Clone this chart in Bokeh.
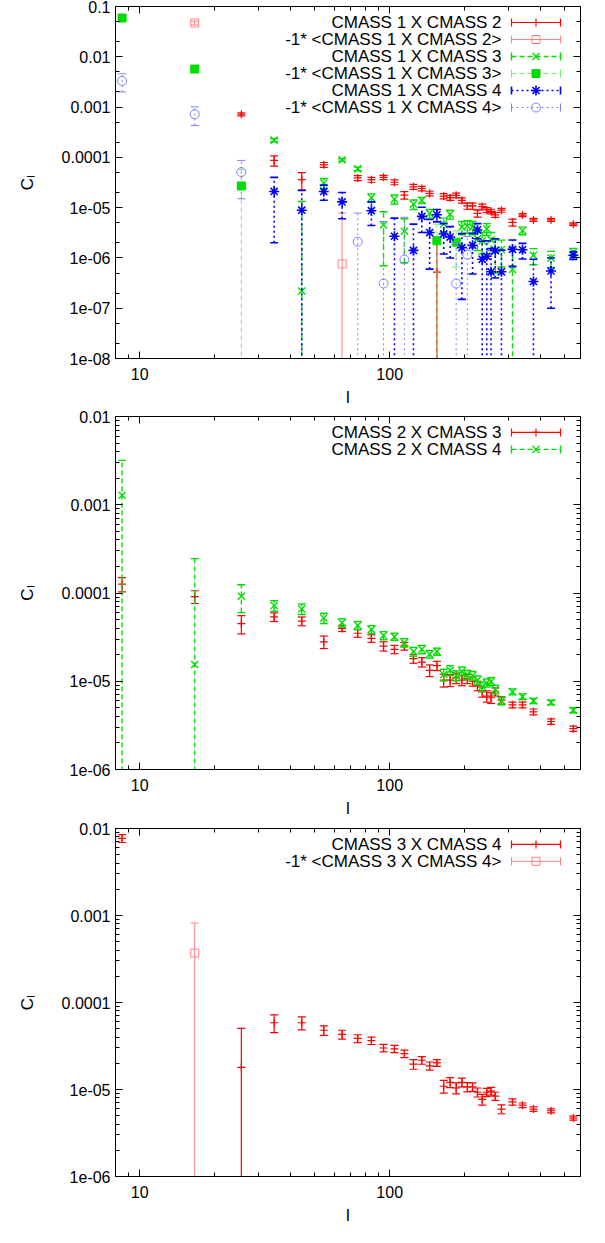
import numpy as np
from bokeh.plotting import figure
from bokeh.layouts import column
from bokeh.models import Range1d, FixedTicker, CustomJSTickFormatter, LogAxis
from bokeh.core.properties import value
from bokeh.embed import file_html
from bokeh.resources import INLINE

FONT = "Liberation Sans"
NAN = float("nan")

# multipole bins
ELL = [8.5, 16.6, 25.5, 34.5, 44.5, 54.5, 64.5, 74.5, 84.5, 94.5, 104.5, 114.5,
       124.5, 134.5, 144.5, 154.5, 164.5, 174.5, 184.5, 194.5, 204.5, 214.5,
       224.5, 234.5, 244.5, 254.5, 264.5, 280, 310, 340, 376, 442, 543]

# ---- panel 1 (signed values; negatives are drawn as -1*<...>) ----
C_1x2 = [NAN, -0.047, 7.2e-4, 8.7e-5, 3.6e-5, 7.1e-5, -7.6e-7, 3.9e-5, 3.6e-5, 4.0e-5,
         3.2e-5, 1.78e-5, 2.6e-5, 2.4e-5, 1.92e-5, 5.2e-7, 1.7e-5, 1.58e-5, 1.76e-5,
         1.4e-5, 1.08e-5, 1.08e-5, 7.7e-6, 1.05e-5, 9.0e-6, 8.4e-6, 7.2e-6, 8.9e-6,
         5.1e-6, 7.1e-6, 5.7e-6, 5.7e-6, 4.7e-6]
E_1x2 = [NAN, 0.004, 0.5e-4, 2.0e-5, 1.35e-5, 0.8e-5, 7.1e-6, 0.45e-5, 0.4e-5, 0.4e-5,
         0.35e-5, 0.3e-5, 0.3e-5, 0.25e-5, 0.2e-5, 1.7e-6, 0.2e-5, 0.18e-5, 0.18e-5,
         0.17e-5, 0.15e-5, 0.15e-5, 1.2e-6, 1.2e-6, 1.0e-6, 0.9e-6, 0.8e-6, 0.8e-6,
         0.8e-6, 0.5e-6, 0.4e-6, 0.4e-6, 0.3e-6]

C_1x3 = [-0.059, -5.7e-3, -2.7e-5, 2.2e-4, 2.2e-7, 3.1e-5, 8.9e-5, 5.9e-5, 1.58e-5, 4.5e-6,
         1.48e-5, 3.4e-6, 1.17e-5, 1.4e-5, 7.7e-6, -2.2e-6, 4.7e-6, 7.4e-6, -2.06e-6,
         4.1e-6, 4.3e-6, 4.1e-6, 2.4e-6, 2.2e-6, 3.8e-6, 2.3e-6, 1.4e-6, 1.46e-6,
         5.9e-7, 3.5e-6, 1.13e-6, 1.0e-6, 1.3e-6]
E_1x3 = [0.004, 0.4e-3, 3.0e-5, 0.15e-4, 1.3e-5, 0.7e-5, 0.5e-5, 0.5e-5, 0.3e-5, 3.8e-6,
         0.3e-5, 2.6e-6, 0.25e-5, 0.2e-5, 1.5e-6, 2.5e-6, 1.5e-6, 1.5e-6, 1.4e-6,
         1.2e-6, 1.2e-6, 1.2e-6, 1.0e-6, 1.0e-6, 1.0e-6, 0.9e-6, 0.9e-6, 0.8e-6,
         1.0e-6, 0.6e-6, 0.4e-6, 0.35e-6, 0.25e-6]

C_1x4 = [-3.3e-3, -7.2e-4, -5.1e-5, 2.1e-5, 8.9e-6, 2.1e-5, 1.3e-5, -2.1e-6, 8.7e-6, -3.1e-7,
         2.7e-6, -9.3e-7, 1.41e-6, 6.7e-6, 3.2e-6, 7.2e-6, 3.0e-6, 2.6e-6, -3.1e-7,
         1.6e-6, -1.16e-6, 1.78e-6, 3.6e-6, 9.4e-7, 1.08e-6, 5.3e-7, 1.4e-6, 5.3e-7,
         1.48e-6, 1.45e-6, 3.4e-7, 5.5e-7, 1.13e-6]
E_1x4 = [1.3e-3, 2.9e-4, 3.6e-5, 1.9e-5, 1.3e-5, 0.7e-5, 0.7e-5, 5.7e-6, 4.3e-6, 5.0e-6,
         3.5e-6, 5.5e-6, 3.3e-6, 3.5e-6, 2.6e-6, 2.0e-6, 1.8e-6, 1.6e-6, 1.7e-6,
         1.45e-6, 1.5e-6, 1.3e-6, 1.2e-6, 1.2e-6, 1.1e-6, 1.0e-6, 1.0e-6, 0.9e-6,
         0.8e-6, 0.5e-6, 0.6e-6, 0.45e-6, 0.2e-6]

# ---- panel 2 ----
C_2x3 = [1.26e-4, 9.1e-5, 4.5e-5, 5.35e-5, 4.8e-5, 2.8e-5, 3.96e-5, 3.5e-5, 3.06e-5, 2.5e-5,
         2.3e-5, 2.5e-5, 1.8e-5, 1.65e-5, 1.33e-5, 1.5e-5, 1.03e-5, 1.03e-5, 1.09e-5,
         1.03e-5, 1.07e-5, 1.0e-5, 8.9e-6, 7.6e-6, 6.8e-6, 6.5e-6, 7.6e-6, 6.1e-6,
         5.4e-6, 5.4e-6, 4.5e-6, 3.5e-6, 2.9e-6]
E_2x3 = [2.3e-5, 1.5e-5, 1.05e-5, 0.6e-5, 0.55e-5, 0.45e-5, 0.3e-5, 0.35e-5, 0.3e-5, 0.3e-5,
         0.25e-5, 0.25e-5, 0.2e-5, 0.2e-5, 0.2e-5, 0.18e-5, 0.17e-5, 0.16e-5, 0.15e-5,
         0.14e-5, 0.13e-5, 0.12e-5, 1.1e-6, 1.0e-6, 1.0e-6, 0.9e-6, 0.8e-6, 0.6e-6,
         0.4e-6, 0.4e-6, 0.35e-6, 0.25e-6, 0.2e-6]

C_2x4 = [1.28e-3, 1.55e-5, 9.2e-5, 7.2e-5, 6.6e-5, 5.2e-5, 4.6e-5, 4.3e-5, 3.86e-5, 3.3e-5,
         3.2e-5, 2.74e-5, 2.17e-5, 2.3e-5, 2.03e-5, 2.17e-5, 1.19e-5, 1.33e-5, 1.16e-5,
         1.3e-5, 1.19e-5, 1.16e-5, 1.03e-5, 8.7e-6, 9.6e-6, 1.0e-5, 8.1e-6, 6.0e-6,
         7.6e-6, 6.7e-6, 6.0e-6, 5.75e-6, 4.7e-6]
E_2x4 = [1.9e-3, 2.3e-4, 3.2e-5, 1.0e-5, 0.9e-5, 0.7e-5, 0.5e-5, 0.45e-5, 0.4e-5, 0.35e-5,
         0.3e-5, 0.3e-5, 0.25e-5, 0.25e-5, 0.2e-5, 0.2e-5, 0.18e-5, 0.17e-5, 0.15e-5,
         0.15e-5, 0.14e-5, 0.13e-5, 0.12e-5, 1.1e-6, 1.0e-6, 1.0e-6, 0.9e-6, 0.6e-6,
         0.6e-6, 0.5e-6, 0.4e-6, 0.35e-6, 0.3e-6]

# ---- panel 3 ----
C_3x4 = [7.7e-3, -3.7e-4, 1.8e-5, 5.85e-5, 5.85e-5, 4.8e-5, 4.3e-5, 3.86e-5, 3.64e-5, 3.0e-5,
         2.93e-5, 2.58e-5, 1.96e-5, 2.17e-5, 1.87e-5, 2.02e-5, 1.09e-5, 1.21e-5, 1.04e-5,
         1.21e-5, 1.07e-5, 1.07e-5, 9.3e-6, 7.7e-6, 9.3e-6, 9.6e-6, 8.4e-6, 5.96e-6,
         7.2e-6, 6.6e-6, 5.96e-6, 5.7e-6, 4.7e-6]
E_3x4 = [0.8e-3, 4.5e-4, 3.25e-5, 1.35e-5, 1.0e-5, 0.6e-5, 0.5e-5, 0.4e-5, 0.35e-5, 0.3e-5,
         0.28e-5, 0.26e-5, 0.25e-5, 0.22e-5, 0.2e-5, 0.18e-5, 0.18e-5, 0.16e-5, 0.15e-5,
         0.14e-5, 0.13e-5, 0.12e-5, 1.1e-6, 1.1e-6, 1.0e-6, 1.0e-6, 0.9e-6, 0.7e-6,
         0.6e-6, 0.4e-6, 0.35e-6, 0.3e-6, 0.25e-6]

X_MAJOR = [10, 100]
X_MINOR = [9] + [m * 10 for m in range(2, 10)] + [m * 100 for m in range(2, 6)]

X0, X1 = 8.0, 580.0
FW = 465

RED, LRED = "#ff0000", "#ff8080"
GREEN, LGREEN = "#00dd00", "#80e880"
BLUE, LBLUE = "#0000ff", "#8080ff"

YFMT = """
const e = Math.round(Math.log10(tick));
if (e >= -4) { return tick.toFixed(Math.max(0, -e)); }
const n = -e;
return "1e-" + (n < 10 ? "0" + n : "" + n);
"""

FRAME_H = {}


def style_ticks(ax):
    ax.major_tick_in = 7
    ax.major_tick_out = 0
    ax.minor_tick_in = 4
    ax.minor_tick_out = 0
    ax.axis_line_color = "black"
    ax.major_tick_line_color = "black"
    ax.minor_tick_line_color = "black"


def make_fig(height, top, bottom, ylo, yhi, ymult):
    p = figure(width=589, height=height, x_axis_type="log", y_axis_type="log",
               x_range=Range1d(X0, X1), y_range=Range1d(10.0 ** ylo, 10.0 ** yhi),
               output_backend="svg", toolbar_location=None,
               min_border_left=115, min_border_right=9,
               min_border_top=top, min_border_bottom=bottom)
    p.grid.visible = False
    p.outline_line_color = "black"
    p.outline_line_width = 1
    p.background_fill_color = "white"
    p.border_fill_color = "white"
    ymaj = [10.0 ** e for e in range(ylo, yhi + 1)]
    ymin = [m * 10.0 ** e for e in range(ylo, yhi) for m in ymult]
    p.xaxis.ticker = FixedTicker(ticks=X_MAJOR, minor_ticks=X_MINOR)
    p.yaxis.ticker = FixedTicker(ticks=ymaj, minor_ticks=ymin)
    p.xaxis.formatter = CustomJSTickFormatter(code="return String(Math.round(tick));")
    p.yaxis.formatter = CustomJSTickFormatter(code=YFMT)
    p.xaxis.axis_label = "l"
    p.yaxis.axis_label = "C\u2097"
    for ax in (p.xaxis[0], p.yaxis[0]):
        ax.major_label_text_font = FONT
        ax.major_label_text_font_size = "16px"
        ax.major_label_text_color = "black"
        ax.axis_label_text_font = FONT
        ax.axis_label_text_font_size = "17px"
        ax.axis_label_text_font_style = "normal"
        ax.axis_label_text_color = "black"
        style_ticks(ax)
    p.xaxis.major_label_standoff = 9
    p.xaxis.axis_label_standoff = 5
    p.yaxis.major_label_standoff = 5
    p.yaxis.axis_label_standoff = 22
    # mirrored ticks on top and right (no labels)
    top_ax = LogAxis(ticker=FixedTicker(ticks=X_MAJOR, minor_ticks=X_MINOR),
                     formatter=CustomJSTickFormatter(code="return '';"))
    right_ax = LogAxis(ticker=FixedTicker(ticks=ymaj, minor_ticks=ymin),
                       formatter=CustomJSTickFormatter(code="return '';"))
    for ax in (top_ax, right_ax):
        ax.major_label_text_font_size = "1px"
        ax.major_label_text_color = None
        ax.major_label_standoff = 0
        style_ticks(ax)
    p.add_layout(top_ax, "above")
    p.add_layout(right_ax, "right")
    FRAME_H[id(p)] = height - top - bottom
    return p


def series(p, cl, err, sign, color, dash, marker, size, fill, mcolor, lw=1.0):
    ell = np.asarray(ELL, float)
    y_all = np.asarray(cl, float) * sign
    e_all = np.asarray(err, float)
    m = np.isfinite(y_all) & (y_all > 0)
    x, y, e = ell[m], y_all[m], e_all[m]
    up = y + e
    lo = np.maximum(y - e, 1e-14)
    p.segment(x0=x, y0=lo, x1=x, y1=up, line_color=color, line_dash=dash, line_width=lw)
    p.scatter(x=np.concatenate([x, x]), y=np.concatenate([up, lo]), marker="dash",
              size=8, line_color=color, line_width=lw)
    p.scatter(x=x, y=y, marker=marker, size=size, line_color=mcolor, fill_color=fill,
              line_width=lw)


def px2x(px):
    return 10 ** (np.log10(X0) + px / FW * (np.log10(X1) - np.log10(X0)))


def legend_row(p, ylo, yhi, row, label, color, dash, marker, size, fill, mcolor, lw=1.0):
    fh = FRAME_H[id(p)]
    py = 16 + 17 * row
    y = 10 ** (yhi - py / fh * (yhi - ylo))
    xa, xb, xm, xt = px2x(396), px2x(445), px2x(420.5), px2x(386)
    p.segment(x0=[xa], y0=[y], x1=[xb], y1=[y], line_color=color, line_dash=dash, line_width=lw)
    p.scatter(x=[xa, xb], y=[y, y], marker="dash", angle=np.pi / 2, size=8,
              line_color=color, line_width=lw)
    p.scatter(x=[xm], y=[y], marker=marker, size=size, line_color=mcolor,
              fill_color=fill, line_width=lw)
    p.text(x=[xt], y=[y], text=[label], text_align="right", text_baseline="middle",
           text_font=value(FONT), text_font_size="17px", text_color="black")


STY = {
    "pos12": dict(color=RED, dash="solid", marker="cross", size=8, fill=None, mcolor=RED, lw=1.2),
    "neg12": dict(color=LRED, dash="solid", marker="square", size=8, fill=None, mcolor=LRED, lw=1.0),
    "pos13": dict(color=GREEN, dash="5 3", marker="x", size=10, fill=None, mcolor=GREEN, lw=1.4),
    "neg13": dict(color=LGREEN, dash="5 3", marker="square", size=8, fill=GREEN, mcolor=GREEN, lw=1.0),
    "pos14": dict(color=BLUE, dash="2 3", marker="asterisk", size=10, fill=None, mcolor=BLUE, lw=1.6),
    "neg14": dict(color=LBLUE, dash="2 3", marker="circle", size=9, fill=None, mcolor=LBLUE, lw=1.0),
}

# ---------------- panel 1 ----------------
p1 = make_fig(410, 6, 52, -8, -1, [2, 5])
series(p1, C_1x2, E_1x2, 1, **STY["pos12"])
series(p1, C_1x2, E_1x2, -1, **STY["neg12"])
series(p1, C_1x3, E_1x3, 1, **STY["pos13"])
series(p1, C_1x3, E_1x3, -1, **STY["neg13"])
series(p1, C_1x4, E_1x4, 1, **STY["pos14"])
series(p1, C_1x4, E_1x4, -1, **STY["neg14"])
labels1 = [("CMASS 1 X CMASS 2", "pos12"), ("-1* <CMASS 1 X CMASS 2>", "neg12"),
           ("CMASS 1 X CMASS 3", "pos13"), ("-1* <CMASS 1 X CMASS 3>", "neg13"),
           ("CMASS 1 X CMASS 4", "pos14"), ("-1* <CMASS 1 X CMASS 4>", "neg14")]
for i, (lab, key) in enumerate(labels1):
    legend_row(p1, -8, -1, i, lab, **STY[key])

# ---------------- panel 2 ----------------
p2 = make_fig(410, 6, 50, -6, -2, range(2, 10))
series(p2, C_2x3, E_2x3, 1, **STY["pos12"])
series(p2, C_2x4, E_2x4, 1, **STY["pos13"])
legend_row(p2, -6, -2, 0, "CMASS 2 X CMASS 3", **STY["pos12"])
legend_row(p2, -6, -2, 1, "CMASS 2 X CMASS 4", **STY["pos13"])

# ---------------- panel 3 ----------------
p3 = make_fig(407, 8, 49, -6, -2, range(2, 10))
series(p3, C_3x4, E_3x4, 1, **STY["pos12"])
series(p3, C_3x4, E_3x4, -1, **STY["neg12"])
legend_row(p3, -6, -2, 0, "CMASS 3 X CMASS 4", **STY["pos12"])
legend_row(p3, -6, -2, 1, "-1* <CMASS 3 X CMASS 4>", **STY["neg12"])

layout = column(p1, p2, p3, spacing=0)
open("out.html", "w").write(file_html(layout, INLINE))
